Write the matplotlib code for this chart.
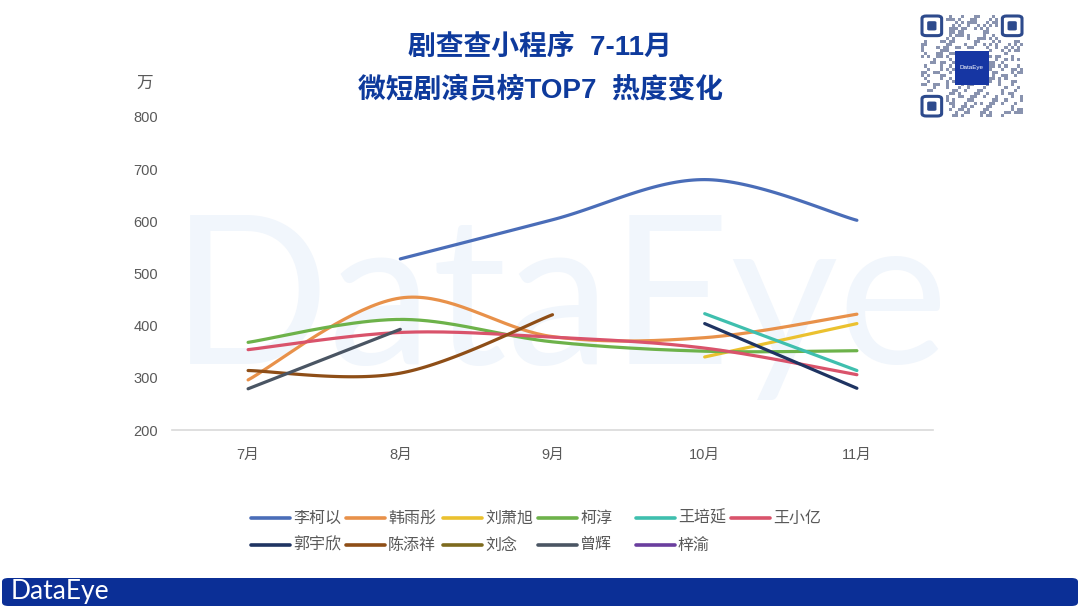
import numpy as np
import matplotlib
matplotlib.use("Agg")
import matplotlib.pyplot as plt
from matplotlib.lines import Line2D
from matplotlib.patches import FancyBboxPatch, Rectangle

plt.rcParams['font.family'] = ['Liberation Sans', 'Noto Sans CJK SC', 'DejaVu Sans']

# ---------------- data ----------------
months = ['7月', '8月', '9月', '10月', '11月']
nan = np.nan
names = ['李柯以', '韩雨彤', '刘萧旭', '柯淳', '王培延', '王小亿',
         '郭宇欣', '陈添祥', '刘念', '曾辉', '梓渝']
li_keyi      = [nan, 528, 603, 680, 602]
han_yutong   = [296, 453, 379, 377, 422]
liu_xiaoxu   = [nan, nan, nan, 340, 404]
ke_chun      = [368, 412, 369, 351, 352]
wang_peiyan  = [nan, nan, nan, 423, 314]
wang_xiaoyi  = [354, 387, 378, 357, 306]
guo_yuxin    = [nan, nan, nan, 404, 280]
chen_tianxiang = [314, 309, 421, nan, nan]
liu_nian     = [nan, nan, nan, nan, nan]
zeng_hui     = [279, 393, nan, nan, nan]
zi_yu        = [nan, nan, nan, nan, nan]
series = [li_keyi, han_yutong, liu_xiaoxu, ke_chun, wang_peiyan, wang_xiaoyi,
          guo_yuxin, chen_tianxiang, liu_nian, zeng_hui, zi_yu]
colors = ['#4A6DB8', '#E8914A', '#EBC12F', '#6DB24A', '#3FBFAE', '#D9536B',
          '#1F3462', '#8E4E17', '#7D6A1E', '#4A5563', '#6A3E9E']
yticks = [200, 300, 400, 500, 600, 700, 800]


def smooth(xs, ys, n=40):
    """Catmull-Rom style smoothing (Excel-like) through the given points."""
    P = np.column_stack([xs, ys]).astype(float)
    if len(P) < 3:
        return P[:, 0], P[:, 1]
    out = []
    m = len(P)
    for i in range(m - 1):
        p0 = P[i - 1] if i > 0 else P[i]
        p1 = P[i]
        p2 = P[i + 1]
        p3 = P[i + 2] if i + 2 < m else P[i + 1]
        c1 = p1 + (p2 - p0) / 6.0
        c2 = p2 - (p3 - p1) / 6.0
        t = np.linspace(0, 1, n)[:, None]
        b = ((1 - t) ** 3) * p1 + 3 * ((1 - t) ** 2) * t * c1 + 3 * (1 - t) * t ** 2 * c2 + t ** 3 * p2
        out.append(b if i == 0 else b[1:])
    B = np.vstack(out)
    return B[:, 0], B[:, 1]


W, H = 1080, 608
fig = plt.figure(figsize=(W / 100, H / 100), dpi=100)
fig.patch.set_facecolor('white')

def fx(px):
    return px / W

def fy(py):
    return 1 - py / H

ax = fig.add_axes([fx(172), fy(430), (933 - 172) / W, (430 - 117) / H])
ax.patch.set_alpha(0)

# watermark (behind everything in the axes)
ax.text(fx(560), fy(305), 'DataEye', fontsize=150, color='#F1F6FC',
        ha='center', va='center', family=['Lato', 'DejaVu Sans'],
        transform=fig.transFigure, zorder=0, clip_on=False)

x = np.arange(len(months))
for vals, col in zip(series, colors):
    v = np.array(vals, dtype=float)
    idx = np.where(~np.isnan(v))[0]
    if len(idx) == 0:
        continue
    runs = np.split(idx, np.where(np.diff(idx) != 1)[0] + 1)
    for r in runs:
        if len(r) < 2:
            continue
        sx, sy = smooth(x[r], v[r])
        ax.plot(sx, sy, color=col, lw=2.3, solid_capstyle='round', zorder=3)

ax.set_xlim(-0.5, len(months) - 0.5)
ax.set_ylim(200, 800)
ax.set_yticks(yticks)
ax.set_xticks(x)
ax.set_xticklabels(months)
ax.tick_params(axis='both', length=0, labelsize=10.5, labelcolor='#595959')
ax.tick_params(axis='y', pad=10)
ax.tick_params(axis='x', pad=13)
for s in ['top', 'right', 'left']:
    ax.spines[s].set_visible(False)
ax.spines['bottom'].set_color('#D9D9D9')
ax.spines['bottom'].set_linewidth(1.2)

# unit label
fig.text(fx(145), fy(83), '万', fontsize=12, color='#595959', ha='center', va='center')

# title
fig.text(fx(540), fy(48), '剧查查小程序  7-11月', fontsize=20, fontweight='bold',
         color='#0E3A9C', ha='center', va='center')
fig.text(fx(540), fy(90), '微短剧演员榜TOP7  热度变化', fontsize=20, fontweight='bold',
         color='#0E3A9C', ha='center', va='center')

# legend (manual grid)
col_x = [251, 346, 443, 538, 636, 731]
row_y = [518, 545]
for i, (nm, col) in enumerate(zip(names, colors)):
    r, c = divmod(i, 6)
    x0 = col_x[c]
    y0 = row_y[r]
    fig.add_artist(Line2D([fx(x0), fx(x0 + 39)], [fy(y0), fy(y0)], color=col, lw=2.6,
                          solid_capstyle='round', transform=fig.transFigure))
    fig.text(fx(x0 + 42), fy(y0), nm, fontsize=11.5, color='#595959', ha='left', va='center')

# bottom banner
fig.add_artist(FancyBboxPatch((fx(2), fy(606)), fx(1076), (606 - 578) / H,
                              boxstyle='round,pad=0,rounding_size=0.006',
                              facecolor='#0B2F96', edgecolor='none', transform=fig.transFigure))
fig.text(fx(11), fy(592), 'DataEye', fontsize=19, color='white', ha='left', va='center',
         family=['Lato', 'DejaVu Sans'])

# QR-code-like badge
qx0, qy0, qs = 921, 15, 102
n_mod = 33
m = qs / n_mod
pattern = ''.join(format(b, '08b') for b in 'DataEye-WeChat-JuChaCha-Mini-Program-QR-Code-Decorative-Badge-2024!'.encode() * 3)
k = 0
for i in range(n_mod):
    for j in range(n_mod):
        in_finder = (i < 8 and j < 8) or (i < 8 and j > n_mod - 9) or (i > n_mod - 9 and j < 8)
        in_center = 11 <= i <= 21 and 11 <= j <= 21
        if in_finder or in_center:
            continue
        if pattern[k % len(pattern)] == '1' and (i * 7 + j * 3) % 4 != 0:
            fig.add_artist(Rectangle((fx(qx0 + j * m), fy(qy0 + (i + 1) * m)), m / W, m / H,
                                     facecolor='#3A4C7A', edgecolor='none', alpha=0.6,
                                     transform=fig.transFigure))
        k += 1
for (fi, fj) in [(0, 0), (0, n_mod - 7), (n_mod - 7, 0)]:
    X0 = qx0 + fj * m
    Y0 = qy0 + fi * m
    fig.add_artist(FancyBboxPatch((fx(X0 + 1), fy(Y0 + 7 * m - 1)), (7 * m - 2) / W, (7 * m - 2) / H,
                                  boxstyle='round,pad=0,rounding_size=0.004',
                                  facecolor='white', edgecolor='#2D4A8C', lw=2.2,
                                  transform=fig.transFigure))
    fig.add_artist(FancyBboxPatch((fx(X0 + 2 * m), fy(Y0 + 5 * m)), (3 * m) / W, (3 * m) / H,
                                  boxstyle='round,pad=0,rounding_size=0.002',
                                  facecolor='#2D4A8C', edgecolor='none',
                                  transform=fig.transFigure))
fig.add_artist(Rectangle((fx(955), fy(85)), 34 / W, 34 / H, facecolor='#1636A3',
                         edgecolor='none', transform=fig.transFigure))
fig.text(fx(972), fy(68), 'DataEye', fontsize=4.5, color='white', ha='center', va='center')

fig.savefig('out.png', dpi=100)
